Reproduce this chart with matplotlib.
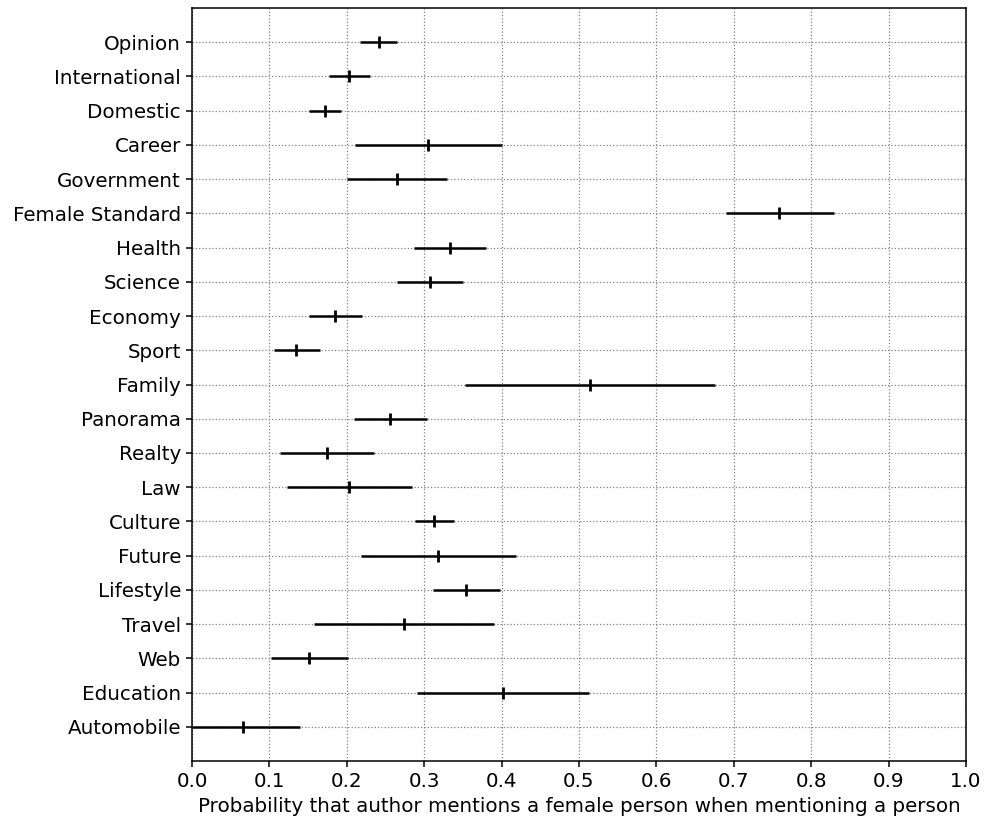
import numpy as np
import matplotlib
matplotlib.use('Agg')
import matplotlib.pyplot as plt

# categories top to bottom
categories = ['Opinion', 'International', 'Domestic', 'Career', 'Government',
              'Female Standard', 'Health', 'Science', 'Economy', 'Sport',
              'Family', 'Panorama', 'Realty', 'Law', 'Culture', 'Future',
              'Lifestyle', 'Travel', 'Web', 'Education', 'Automobile']

# point estimate and interval bounds
mean = [0.241, 0.203, 0.172, 0.305, 0.265, 0.759, 0.333, 0.307, 0.185, 0.135,
        0.514, 0.256, 0.174, 0.203, 0.313, 0.318, 0.354, 0.274, 0.151, 0.402, 0.066]
lower = [0.217, 0.177, 0.151, 0.210, 0.200, 0.690, 0.287, 0.265, 0.151, 0.106,
         0.353, 0.209, 0.114, 0.123, 0.288, 0.218, 0.311, 0.157, 0.102, 0.291, 0.0]
upper = [0.265, 0.230, 0.193, 0.401, 0.330, 0.829, 0.380, 0.350, 0.219, 0.165,
         0.676, 0.303, 0.235, 0.284, 0.339, 0.419, 0.398, 0.390, 0.201, 0.513, 0.139]

mean = np.array(mean)
err = np.array([mean - np.array(lower), np.array(upper) - mean])
y = np.arange(len(categories))[::-1]

plt.rcParams['font.family'] = 'DejaVu Sans'
plt.rcParams['font.size'] = 14.3
plt.rcParams['axes.linewidth'] = 1.1
plt.rcParams['xtick.major.size'] = 4.5
plt.rcParams['ytick.major.size'] = 4.5
plt.rcParams['xtick.major.width'] = 1.1
plt.rcParams['ytick.major.width'] = 1.1
fig = plt.figure(figsize=(9.85, 8.23), dpi=100)
ax = fig.add_axes([192/985, 1 - 761/823, 774/985, 753/823])

ax.errorbar(mean, y, xerr=err, fmt='|', color='black', ecolor='black',
            elinewidth=1.8, markersize=9, markeredgewidth=2, capsize=0)

ax.set_yticks(y)
ax.set_yticklabels(categories)
ax.set_ylim(-1, len(categories))
ax.set_xlim(0, 1)
ax.set_xticks(np.arange(0, 1.01, 0.1))
ax.grid(True, linestyle=':', color='gray', linewidth=0.9)
ax.set_axisbelow(True)
ax.set_xlabel('Probability that author mentions a female person when mentioning a person')

fig.savefig('out.png', dpi=100)
